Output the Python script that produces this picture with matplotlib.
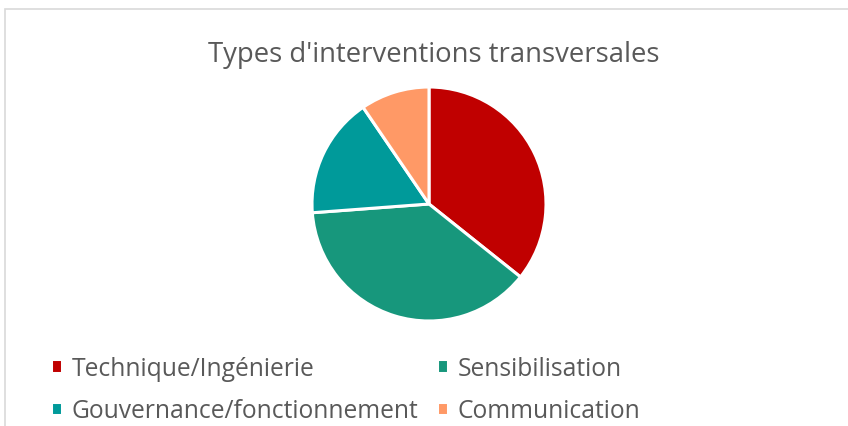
import matplotlib
matplotlib.use("Agg")
import matplotlib.pyplot as plt
from matplotlib.patches import Rectangle

categories = ["Technique/Ingénierie", "Sensibilisation", "Gouvernance/fonctionnement", "Communication"]
values = [15, 16, 7, 4]
colors = ["#C00000", "#17977C", "#009A9A", "#FF9966"]

W, H = 848, 427
fig = plt.figure(figsize=(W / 100, H / 100), dpi=100)
fig.patch.set_facecolor("white")

# chart border
fig.add_artist(Rectangle((5 / W, -0.1), (W + 20) / W, (H - 10) / H + 0.1, transform=fig.transFigure,
                         fill=False, edgecolor="#D9D9D9", linewidth=1.2))

fig.text(434 / W, 1 - 55 / H, "Types d'interventions transversales", ha="center", va="center",
         fontsize=19.8, color="#595959", family="Open Sans")

cx, cy, r = 429, 205, 117
ax = fig.add_axes([(cx - r) / W, 1 - (cy + r) / H, 2 * r / W, 2 * r / H])
wedges, _ = ax.pie(values, colors=colors, startangle=90, counterclock=False,
                   wedgeprops=dict(edgecolor="white", linewidth=2.2))
ax.set_aspect("equal")
ax.set_xlim(-1, 1)
ax.set_ylim(-1, 1)
ax.axis("off")

order = [0, 2, 1, 3]
leg = fig.legend([wedges[i] for i in order], [categories[i] for i in order], ncol=2,
                 loc="upper left", bbox_to_anchor=(41 / W, 1 - 347 / H), frameon=False,
                 prop=dict(family="Open Sans", size=17.7), labelcolor="#595959",
                 handlelength=0.45, handleheight=0.45, handletextpad=0.4,
                 columnspacing=0.75, labelspacing=0.7, borderaxespad=0)

fig.savefig("out.png", dpi=100, facecolor="white")
